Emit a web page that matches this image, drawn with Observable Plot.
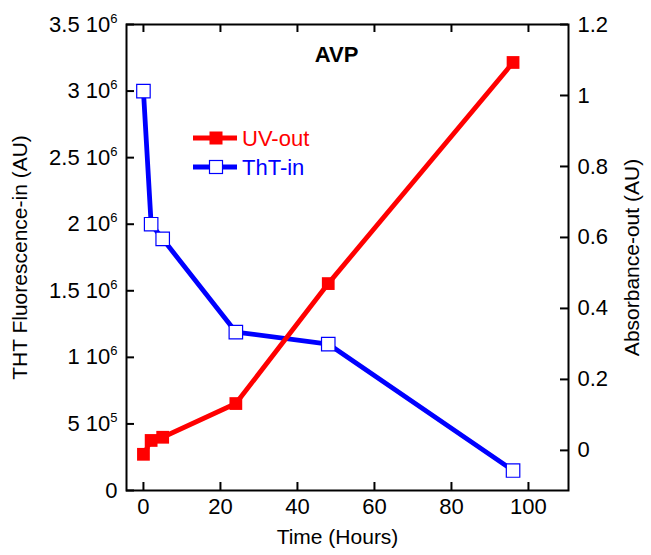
<!DOCTYPE html>
<html><head><meta charset="utf-8">
<script src="https://cdn.jsdelivr.net/npm/d3@7"></script>
<script src="https://cdn.jsdelivr.net/npm/@observablehq/plot@0.6"></script>
<style>
body{margin:0;background:#fff}
svg{font-family:"Liberation Sans",Arial,Helvetica,sans-serif}
</style>
</head><body><div id="chart"></div>
<script>
// ---- data ----
const timeHours = [0, 2, 5, 24, 48, 96];
const thtIn = [3.0e6, 2.0e6, 1.89e6, 1.19e6, 1.1e6, 0.15e6];
const uvOut = [-0.011, 0.028, 0.037, 0.132, 0.470, 1.093];
const xTicks = [0, 20, 40, 60, 80, 100];
const leftTicks = [0, 5e5, 1e6, 1.5e6, 2e6, 2.5e6, 3e6, 3.5e6];
const leftTickMantissa = ["0", "5", "1", "1.5", "2", "2.5", "3", "3.5"];
const leftTickExponent = ["", "5", "6", "6", "6", "6", "6", "6"];
const rightTicks = [0, 0.2, 0.4, 0.6, 0.8, 1, 1.2];
const rightTickLabels = ["0", "0.2", "0.4", "0.6", "0.8", "1", "1.2"];
const seriesNames = ["UV-out", "ThT-in"];
const seriesColors = ["#ff0000", "#0000ff"];
const xDomain = [-4.4, 110.4];
const leftDomain = [0, 3.5e6];
const rightDomain = [-0.113, 1.2];

// right axis values mapped onto the left scale
const toLeft = v => (v - rightDomain[0]) / (rightDomain[1] - rightDomain[0]) * (leftDomain[1] - leftDomain[0]) + leftDomain[0];

const W = 651, H = 555, mL = 126, mR = 83, mT = 24, mB = 65;
const fw = W - mL - mR, fh = H - mT - mB;
const tk = 8;
const FS = 22;   // tick labels
const TS = 21;   // axis titles

const plot = Plot.plot({
  width: W, height: H,
  marginLeft: mL, marginRight: mR, marginTop: mT, marginBottom: mB,
  style: {fontFamily: '"Liberation Sans",Arial,sans-serif', fontSize: FS + "px", color: "#000", background: "#fff"},
  x: {domain: xDomain, axis: null},
  y: {domain: leftDomain, axis: null},
  marks: [
    // inward ticks
    Plot.tickY(leftTicks, {y: d => d, insetRight: fw - tk, stroke: "#000", strokeWidth: 2}),
    Plot.tickY(rightTicks, {y: d => toLeft(d), insetLeft: fw - tk, stroke: "#000", strokeWidth: 2}),
    Plot.tickX(xTicks, {x: d => d, insetTop: fh - tk, stroke: "#000", strokeWidth: 2}),
    Plot.tickX(xTicks, {x: d => d, insetBottom: fh - tk, stroke: "#000", strokeWidth: 2}),
    // tick labels
    Plot.text(leftTicks, {y: d => d, text: (d, i) => leftTickMantissa[i] + (leftTickExponent[i] ? " 10" : ""),
      frameAnchor: "left", textAnchor: "end", dx: -9, fontSize: FS, fill: "#000"}),
    Plot.text(rightTicks, {y: d => toLeft(d), text: (d, i) => rightTickLabels[i],
      frameAnchor: "right", textAnchor: "start", dx: 9, fontSize: FS, fill: "#000"}),
    Plot.text(xTicks, {x: d => d, text: d => String(d), frameAnchor: "bottom", lineAnchor: "middle", dy: 16, fontSize: FS, fill: "#000"}),
    // axis titles
    Plot.text(["THT Fluorescence-in (AU)"], {frameAnchor: "left", textAnchor: "middle", rotate: -90, dx: -106, fontSize: TS, fill: "#000"}),
    Plot.text(["Absorbance-out (AU)"], {frameAnchor: "right", textAnchor: "middle", rotate: -90, dx: 64, fontSize: TS, fill: "#000"}),
    Plot.text(["Time (Hours)"], {frameAnchor: "bottom", textAnchor: "middle", lineAnchor: "middle", dy: 47, dx: -10, fontSize: TS, fill: "#000"}),
    Plot.text(["AVP"], {frameAnchor: "top", textAnchor: "middle", lineAnchor: "middle", dy: 30, dx: -11, fontSize: 22, fontWeight: "bold", fill: "#000"}),
    // series
    Plot.line(timeHours, {x: d => d, y: (d, i) => thtIn[i], stroke: seriesColors[1], strokeWidth: 4.8}),
    Plot.line(timeHours, {x: d => d, y: (d, i) => toLeft(uvOut[i]), stroke: seriesColors[0], strokeWidth: 4.8}),
    Plot.dot(timeHours, {x: d => d, y: (d, i) => toLeft(uvOut[i]), symbol: "square", r: 7.2, fill: seriesColors[0], stroke: "none"}),
    Plot.dot(timeHours, {x: d => d, y: (d, i) => thtIn[i], symbol: "square", r: 7.6, fill: "#fff", stroke: seriesColors[1], strokeWidth: 1.2}),
    Plot.frame({stroke: "#000", strokeWidth: 2})
  ]
});

document.getElementById("chart").appendChild(plot);

// superscript exponents on the left tick labels
const svg = d3.select(plot);
svg.selectAll("text").each(function () {
  const t = this.textContent;
  const m = t.match(/^(\S+) 10$/);
  if (!m) return;
  const i = leftTickMantissa.indexOf(m[1]);
  if (i < 0 || !leftTickExponent[i]) return;
  d3.select(this).append("tspan").attr("dy", -9).attr("font-size", 13).text(leftTickExponent[i]);
});

// legend inside the plot area
const legend = svg.append("g").attr("font-size", 22).attr("text-anchor", "start");
const rowsY = [138, 167];
seriesNames.forEach((name, i) => {
  const y = rowsY[i];
  legend.append("line").attr("x1", 193).attr("x2", 237).attr("y1", y).attr("y2", y)
    .attr("stroke", seriesColors[i]).attr("stroke-width", 4.8);
  const s = 13;
  legend.append("rect").attr("x", 216 - s / 2).attr("y", y - s / 2).attr("width", s).attr("height", s)
    .attr("fill", i === 0 ? seriesColors[0] : "#fff").attr("stroke", i === 0 ? "none" : seriesColors[1]).attr("stroke-width", 1.2);
  legend.append("text").attr("x", 242).attr("y", y).attr("dy", "0.35em").attr("fill", seriesColors[i]).text(name);
});
</script>
</body></html>
